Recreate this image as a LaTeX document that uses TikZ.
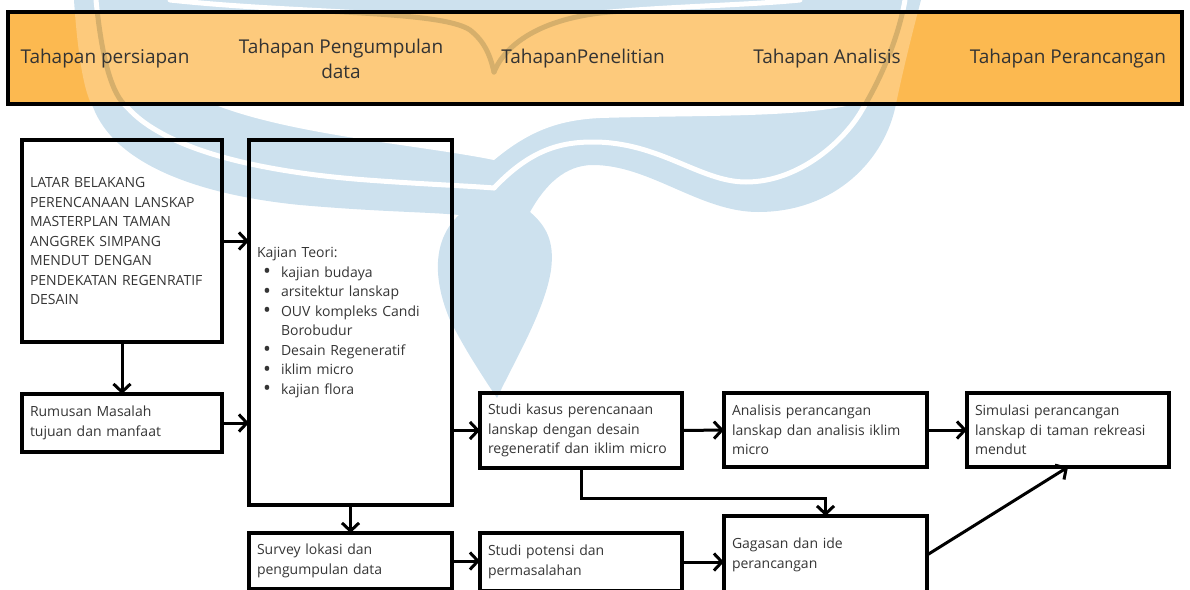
\documentclass[tikz,border=0pt]{standalone}
\usepackage{fontspec}
\setmainfont{Open Sans}
\usetikzlibrary{arrows.meta}
\definecolor{wm}{HTML}{CDE1EE}
\definecolor{orD}{HTML}{FCB950}
\definecolor{orL}{HTML}{FDCA7C}
\definecolor{tanc}{HTML}{D6AF6B}
\definecolor{txt}{HTML}{353535}
\definecolor{htxt}{HTML}{333333}
\newcommand\kbul{\makebox[24pt][l]{\hspace*{6pt}\raisebox{-1.6pt}{\fontsize{21}{19.5}\selectfont\textbullet}}}
\def\logopath{(74,0) .. controls (78,60) and (85,95) .. (93,107) .. controls (115,165) and (200,195) .. (300,205) .. controls (380,212) and (430,212) .. (459,215) .. controls (432,240) and (433,280) .. (450,320) .. controls (465,350) and (485,380) .. (497,398) .. controls (515,360) and (545,310) .. (551,270) .. controls (555,240) and (545,225) .. (530,212) .. controls (545,185) and (565,165) .. (593,165) .. controls (650,165) and (700,212) .. (758,212) .. controls (835,212) and (885,160) .. (896,104) .. controls (903,70) and (913,30) .. (921,0) -- cycle}
\def\holepath{(213,100) -- (213,104) .. controls (290,135) and (420,145) .. (494,160) .. controls (530,130) and (560,120) .. (600,118) .. controls (700,115) and (800,118) .. (855,104) -- (855,100) -- cycle}
\def\gapone{(96,0) .. controls (102,60) and (112,95) .. (127,107) .. controls (165,150) and (260,172) .. (367,180) .. controls (420,184) and (470,186) .. (494,188)}
\def\gaptwo{(494,188) .. controls (530,150) and (560,142) .. (593,142) .. controls (660,142) and (700,182) .. (746,182) .. controls (800,182) and (845,140) .. (862,110) .. controls (880,80) and (898,40) .. (905,0)}
\def\vleft{(170,0) .. controls (300,14) and (440,10) .. (470,30) .. controls (485,42) and (490,55) .. (494,72)}
\def\vright{(494,72) .. controls (505,45) and (540,18) .. (610,12) .. controls (680,6) and (750,5) .. (800,0)}
\begin{document}
\begin{tikzpicture}[x=1pt,y=-1pt,
  box/.style={draw=black, line width=3.6pt, anchor=north west, outer sep=0pt,
    inner xsep=8pt, inner ysep=2pt, align=left, text=txt,
    font=\fontsize{14}{19.5}\selectfont},
  htext/.style={text=htxt, align=center, inner sep=0pt, font=\fontsize{19}{25}\selectfont},
  arr/.style={line width=3pt, -{Straight Barb[length=8pt,width=17pt,line width=3pt]}},
  gapline/.style={line width=5pt, line cap=round}]
\useasboundingbox (0,0) rectangle (1190,589);
\clip (0,0) rectangle (1190,589);
% watermark
\fill[wm] \logopath;
\fill[white] \holepath;
\draw[white, gapline] \gapone;
\draw[white, gapline] \gaptwo;
\draw[white, gapline] \vleft;
\draw[white, gapline] \vright;
% header
\fill[orD] (8,12) rectangle (1182,104);
\begin{scope}
  \clip (8,12) rectangle (1182,104);
  \fill[orL] \logopath;
  \draw[tanc, gapline] \gapone;
  \draw[tanc, gapline] \gaptwo;
  \draw[tanc, gapline] \vleft;
  \draw[tanc, gapline] \vright;
\end{scope}
\node[draw=black, line width=4.5pt, anchor=north west, outer sep=0pt, inner sep=0pt,
  minimum width=1174pt, minimum height=92pt] (hdr) at (8,12) {};
\node[htext] (h1) at (105,59) {Tahapan persiapan};
\node[htext] (h2) at (341,59) {Tahapan Pengumpulan\\data};
\node[htext] (h3) at (583,59) {TahapanPenelitian};
\node[htext] (h4) at (827,59) {Tahapan Analisis};
\node[htext] (h5) at (1068,59) {Tahapan Perancangan};
% boxes
\node[box, minimum width=200pt, minimum height=202pt, text width=184pt] (latar) at (22,140)
  {LATAR BELAKANG\\PERENCANAAN LANSKAP\\MASTERPLAN TAMAN\\ANGGREK SIMPANG\\MENDUT DENGAN\\PENDEKATAN REGENRATIF\\DESAIN};
\node[box, minimum width=203pt, minimum height=365pt, text width=187pt] (kajian) at (249,140)
  {Kajian Teori:\\\kbul kajian budaya\\\kbul arsitektur lanskap\\\kbul OUV kompleks Candi\\\hspace*{24pt}Borobudur\\\kbul Desain Regeneratif\\\kbul iklim micro\\\kbul kajian flora};
\node[box, minimum width=200pt, minimum height=58pt, text width=184pt] (rumusan) at (22,394)
  {Rumusan Masalah\\tujuan dan manfaat};
\node[box, minimum width=203pt, minimum height=56pt, text width=187pt] (survey) at (249,533)
  {Survey lokasi dan\\pengumpulan data};
\node[box, minimum width=202pt, minimum height=75pt, text width=186pt] (studi) at (480,393)
  {Studi kasus perencanaan\\lanskap dengan desain\\regeneratif dan iklim micro};
\node[box, minimum width=203pt, minimum height=74pt, text width=187pt] (analisis) at (724,393)
  {Analisis perancangan\\lanskap dan analisis iklim\\micro};
\node[box, minimum width=202pt, minimum height=74pt, text width=186pt] (simulasi) at (967,393)
  {Simulasi perancangan\\lanskap di taman rekreasi\\mendut};
\node[box, minimum width=202pt, minimum height=58pt, text width=186pt] (potensi) at (480,533)
  {Studi potensi dan\\permasalahan};
\node[box, minimum width=203pt, minimum height=78pt, text width=187pt] (gagasan) at (724,516)
  {Gagasan dan ide\\perancangan};
% connectors
\draw[arr] (latar.east) -- (latar.east -| kajian.west);
\draw[arr] (latar.south) -- (rumusan.north);
\draw[arr] (rumusan.east) -- (rumusan.east -| kajian.west);
\draw[arr] (kajian.south) -- (survey.north);
\draw[arr] (studi.west -| kajian.east) -- (studi.west);
\draw[arr] (studi.east) -- (analisis.west);
\draw[arr] (analisis.east) -- (simulasi.west);
\draw[arr] (survey.east) -- (survey.east -| potensi.west);
\draw[arr] (potensi.east) -- (potensi.east -| gagasan.west);
\coordinate (bend) at ([yshift=-30pt]studi.south);
\draw[arr] (studi.south) -- (bend) -| (gagasan.north);
\draw[arr] (gagasan.east) -- (simulasi.south);
\end{tikzpicture}
\end{document}
